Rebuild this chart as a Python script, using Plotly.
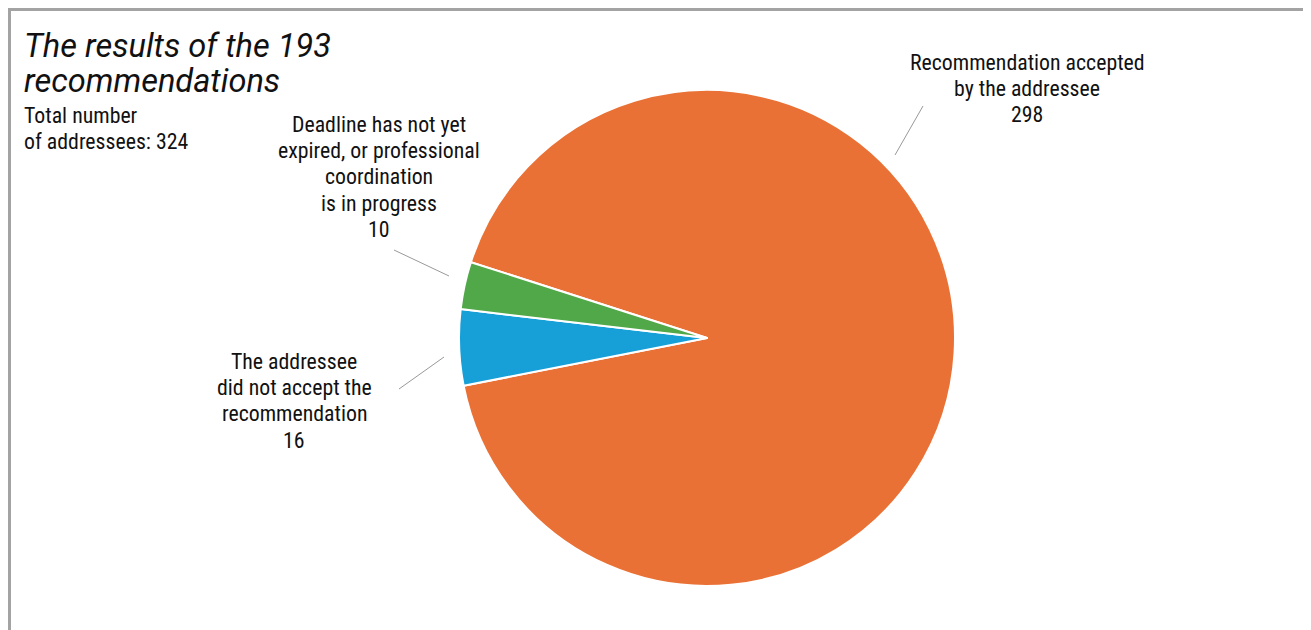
import plotly.graph_objects as go

# Data
categories = ["Recommendation accepted by the addressee",
              "The addressee did not accept the recommendation",
              "Deadline has not yet expired, or professional coordination is in progress"]
values = [298, 16, 10]
colors = ["#EA7135", "#17A0D8", "#50A848"]
label_lines = [["Recommendation accepted", "by the addressee", "298"],
               ["The addressee", "did not accept the", "recommendation", "16"],
               ["Deadline has not yet", "expired, or professional", "coordination", "is in progress", "10"]]
title_lines = ["The results of the 193", "recommendations"]
subtitle_lines = ["Total number", "of addressees: 324"]

W, H = 1311, 630
OFF = 8  # page body margin
def px(x): return (x - OFF) / W
def py(y): return 1 - (y - OFF) / H

LABEL_FONT = "Roboto Condensed, Liberation Sans Narrow, Roboto, sans-serif"

fig = go.Figure(go.Pie(
    labels=categories, values=values, sort=False, direction="clockwise",
    rotation=-72.2, textinfo="none", hoverinfo="label+value",
    marker=dict(colors=colors, line=dict(color="white", width=2)),
    domain=dict(x=[px(459), px(955)], y=[py(586), py(90)]),
    showlegend=False,
))

annotations = []
def add_lines(lines, x, y0, step, anchor, font):
    for i, t in enumerate(lines):
        annotations.append(dict(x=px(x), y=py(y0 + i * step), xref="paper", yref="paper",
                                xanchor=anchor, yanchor="middle", text=t, showarrow=False,
                                font=font))

add_lines(title_lines, 22, 46, 34.5, "left",
          dict(family="Roboto, sans-serif", size=32.6, color="#111", style="italic"))
add_lines(subtitle_lines, 22, 115, 26.5, "left",
          dict(family=LABEL_FONT, size=21.8, color="#111"))

label_pos = [(1027, 62), (294, 361), (379, 124)]
for (lx, ly), lines in zip(label_pos, label_lines):
    add_lines(lines, lx, ly, 26.4, "center", dict(family=LABEL_FONT, size=21.8, color="#111"))

shapes = []
leaders = [((895, 155), (923, 106)), ((399, 389), (444, 357)), ((394, 250), (449, 276))]
for (x0, y0), (x1, y1) in leaders:
    shapes.append(dict(type="line", xref="paper", yref="paper", x0=px(x0), y0=py(y0), x1=px(x1), y1=py(y1),
                       line=dict(color="#999999", width=1)))
# outer border
shapes.append(dict(type="rect", xref="paper", yref="paper", x0=1.5 / W, x1=px(1308), y0=py(680), y1=1 - 1.5 / H,
                   line=dict(color="#A3A3A3", width=3), fillcolor="rgba(0,0,0,0)"))

fig.update_layout(width=W, height=H, margin=dict(l=0, r=0, t=0, b=0),
                  paper_bgcolor="white", plot_bgcolor="white",
                  annotations=annotations, shapes=shapes)

fig.write_html("out.html")
